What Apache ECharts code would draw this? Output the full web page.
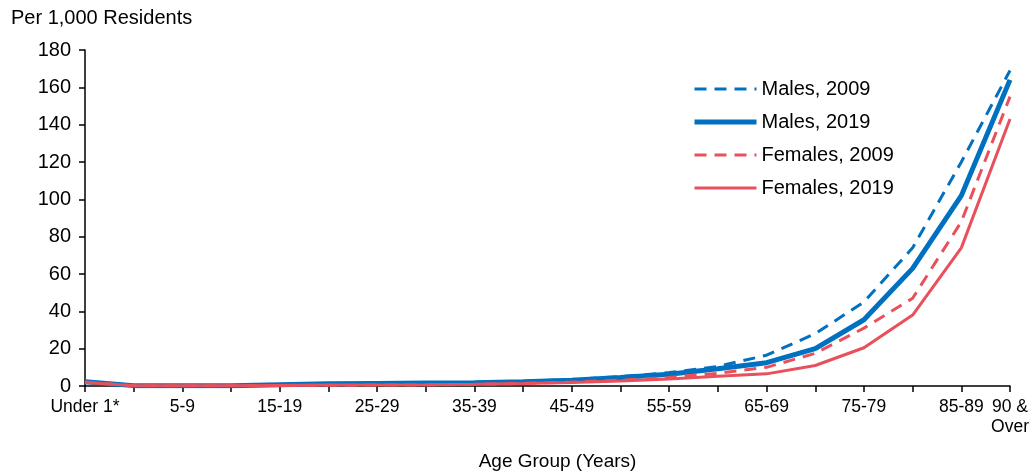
<!DOCTYPE html>
<html>
<head>
<meta charset="utf-8">
<script src="https://cdn.jsdelivr.net/npm/echarts@6/dist/echarts.min.js"></script>
<style>
  html, body { margin: 0; padding: 0; background: #fff; }
  #chart { width: 1034px; height: 472px; }
</style>
</head>
<body>
<div id="chart"></div>
<script>
// Age groups (x axis)
const ageGroups = ['Under 1*', '1-4', '5-9', '10-14', '15-19', '20-24', '25-29', '30-34',
  '35-39', '40-44', '45-49', '50-54', '55-59', '60-64', '65-69', '70-74', '75-79',
  '80-84', '85-89', '90 & Over']

// Death rates per 1,000 residents
const males2009   = [2.6, 0.2, 0.1, 0.2, 0.8, 1.3, 1.3, 1.4, 1.7, 2.4, 3.5, 5.0, 7.2, 10.5, 16.5, 28, 45, 74, 120, 169]
const males2019   = [2.3, 0.2, 0.1, 0.2, 0.7, 1.2, 1.4, 1.6, 1.8, 2.3, 3.1, 4.5, 6.3, 9.2, 12.5, 20, 35.5, 63, 102, 164]
const females2009 = [2.1, 0.2, 0.1, 0.1, 0.3, 0.4, 0.5, 0.6, 0.9, 1.4, 2.1, 3.1, 4.6, 6.8, 10, 17.5, 31, 47, 88, 155]
const females2019 = [1.9, 0.2, 0.1, 0.1, 0.3, 0.5, 0.6, 0.7, 1.0, 1.4, 1.9, 2.7, 3.8, 5.2, 6.5, 11, 20.5, 38, 74, 143]

const BLUE = '#0070c0'
const RED  = '#e8505b'
const FONT = 'Liberation Sans, Arial, sans-serif'

const chart = echarts.init(document.getElementById('chart'), null, { renderer: 'canvas' })

const line = (name, data, color, width, dashed) => ({
  name,
  type: 'line',
  data,
  symbol: 'none',
  lineStyle: { color, width, type: dashed ? [12, 8] : 'solid' },
  itemStyle: { color },
})

chart.setOption({
  animation: false,
  backgroundColor: '#fff',
  textStyle: { fontFamily: FONT },
  grid: { left: 85, right: 24, top: 50, bottom: 86, outerBoundsMode: 'none' },
  legend: {
    orient: 'vertical',
    left: 687,
    top: 74,
    itemWidth: 62,
    itemHeight: 14,
    itemGap: 13,
    itemStyle: { opacity: 0 },
    lineStyle: { width: 'inherit' },
    textStyle: { fontFamily: FONT, fontSize: 20, color: '#000', lineHeight: 20 },
    data: ['Males, 2009', 'Males, 2019', 'Females, 2009', 'Females, 2019'],
  },
  xAxis: {
    type: 'category',
    data: ageGroups,
    boundaryGap: false,
    name: 'Age Group (Years)',
    nameLocation: 'middle',
    nameGap: 66,
    nameTextStyle: { fontFamily: FONT, fontSize: 19, color: '#000', padding: [0, 0, 0, 20] },
    axisLine: { lineStyle: { color: '#000', width: 1.5 } },
    axisTick: { interval: 0, length: 6, lineStyle: { color: '#000', width: 1.5 } },
    axisLabel: {
      interval: (i) => i % 2 === 0 || i === ageGroups.length - 1,
      formatter: (v) => v === '90 & Over' ? '90 &\nOver' : v,
      fontFamily: FONT,
      fontSize: 17.5,
      color: '#000',
      margin: 11,
      lineHeight: 20,
    },
    splitLine: { show: false },
  },
  yAxis: {
    type: 'value',
    min: 0,
    max: 180,
    interval: 20,
    name: 'Per 1,000 Residents',
    nameLocation: 'end',
    nameGap: 22,
    nameTextStyle: { fontFamily: FONT, fontSize: 20, color: '#000', align: 'left', padding: [0, 0, 0, -74] },
    axisLine: { show: true, lineStyle: { color: '#000', width: 1.5 } },
    axisTick: { show: true, length: 6, lineStyle: { color: '#000', width: 1.5 } },
    axisLabel: { fontFamily: FONT, fontSize: 20, color: '#000', margin: 14 },
    splitLine: { show: false },
  },
  series: [
    line('Males, 2009', males2009, BLUE, 3, true),
    line('Males, 2019', males2019, BLUE, 5, false),
    line('Females, 2009', females2009, RED, 3, true),
    line('Females, 2019', females2019, RED, 3, false),
  ],
})
</script>
</body>
</html>
